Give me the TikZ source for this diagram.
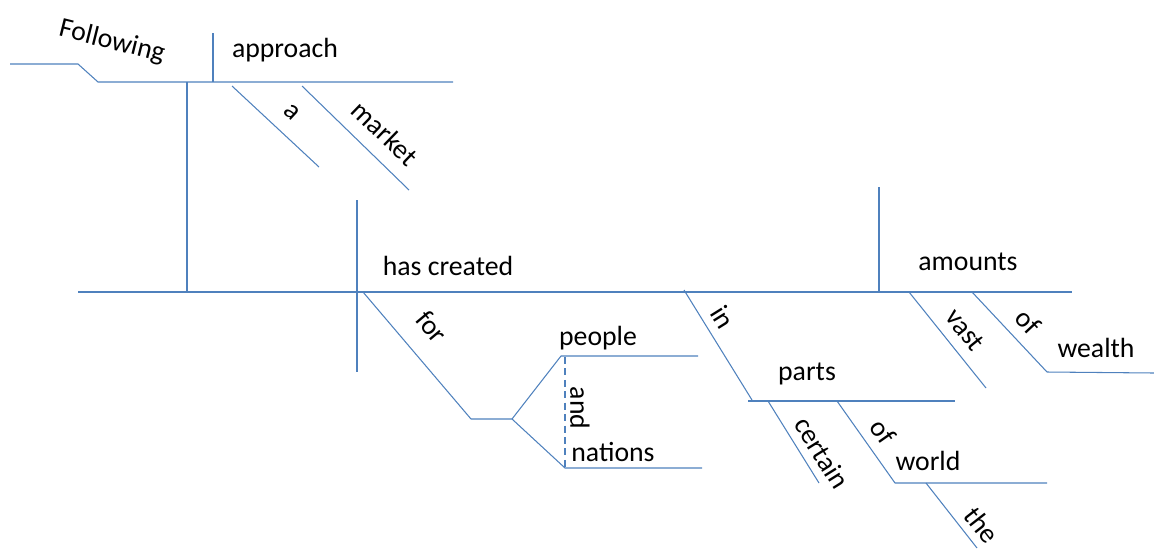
\documentclass[tikz,border=0pt]{standalone}
\usepackage{fontspec}
\setmainfont{Carlito}
\definecolor{rule}{HTML}{4F81BD}
\tikzset{
	base/.style={draw=rule, line width=0.6pt},
	word/.style={font=\fontsize{15.8}{18}\selectfont, inner sep=0pt},
}
\begin{document}
\begin{tikzpicture}[x=0.02cm, y=-0.02cm, line join=round, line cap=butt]
	\useasboundingbox (0,0) rectangle (1154,549);
	% gerund phrase on its stand
	\coordinate (gl) at (10,64); \coordinate (gk) at (78,64); \coordinate (gb) at (98,82);
	\coordinate (ge) at (453,82); \coordinate (st) at (187,82); \coordinate (sb) at (187,292);
	\coordinate (gdt) at (213,33); \coordinate (gdb) at (213,82);
	\draw[base] (gl)--(gk)--(gb)--(ge);
	\draw[base] (st)--(sb);
	\draw[base] (gdt)--(gdb);
	\draw[base] (232,86)--(319,167);
	\draw[base] (302,86)--(409,190);
	\node[word, rotate=-14] (following) at (112,42) {Following};
	\node[word] (approach) at (285,50) {approach};
	\node[word, rotate=-43] (a) at (292,112) {a};
	\node[word, rotate=-44] (market) at (385,133) {market};
	% main line
	\coordinate (ml) at (78,292); \coordinate (mr) at (1072,292);
	\draw[base] (ml)--(mr);
	\draw[base] (357,200)--(357,372);
	\draw[base] (879,187)--(879,292);
	\node[word] (created) at (448,266) {has created};
	\node[word] (amounts) at (968,262) {amounts};
	% for people and nations
	\coordinate (fa) at (363,292); \coordinate (fb) at (471,419); \coordinate (fk) at (512,419);
	\coordinate (pu) at (561,356); \coordinate (pe) at (698,356);
	\coordinate (nu) at (565,468); \coordinate (ne) at (702,468);
	\draw[base] (fa)--(fb)--(fk)--(pu)--(pe);
	\draw[base] (fk)--(nu)--(ne);
	\draw[base, dashed, dash pattern=on 4pt off 2.5pt] (565,357)--(nu);
	\node[word, rotate=-50] (for) at (432,327) {for};
	\node[word] (people) at (598,338) {people};
	\node[word] (nations) at (613,452) {nations};
	\node[word, rotate=-90] (and) at (580,408) {and};
	% in parts of the world
	\coordinate (ia) at (684,290); \coordinate (ib) at (752,400);
	\coordinate (pl) at (748,401); \coordinate (pr) at (955,401);
	\coordinate (wl) at (895,483); \coordinate (wr) at (1047,483);
	\draw[base] (ia)--(ib);
	\draw[base] (pl)--(pr);
	\draw[base] (768,401)--(819,483);
	\draw[base] (837,401)--(wl)--(wr);
	\draw[base] (926,483)--(977,548);
	\node[word, rotate=-58] (in) at (723,317) {in};
	\node[word] (parts) at (807,374) {parts};
	\node[word, rotate=-58] (certain) at (822,453) {certain};
	\node[word, rotate=-55] (ofw) at (883,432) {of};
	\node[word] (world) at (928,461) {world};
	\node[word, rotate=-52] (the) at (982,525) {the};
	% vast amounts of wealth
	\coordinate (wa) at (1047,372); \coordinate (wb) at (1154,373);
	\draw[base] (909,292)--(986,388);
	\draw[base] (972,292)--(wa)--(wb);
	\node[word, rotate=-51] (vast) at (965,330) {vast};
	\node[word, rotate=-47] (ofh) at (1028,322) {of};
	\node[word] (wealth) at (1096,348) {wealth};
\end{tikzpicture}
\end{document}
